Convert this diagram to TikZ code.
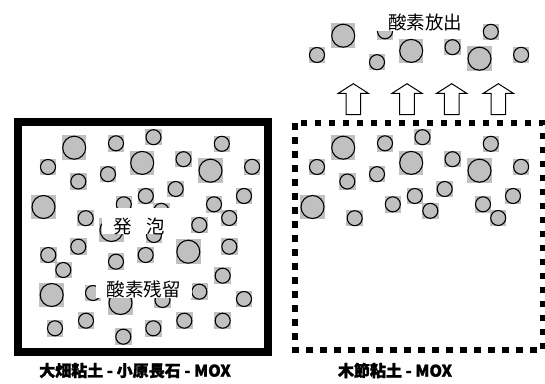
\documentclass[tikz,border=0pt]{standalone}
\usepackage{fontspec}
\newfontfamily\jp{Noto Sans CJK JP}
\newfontfamily\jpheavy{Noto Sans CJK JP}[BoldFeatures={FakeBold=1.5}]
\definecolor{poregray}{HTML}{C0C0C0}
\tikzset{
  poreline/.style={draw=black, line width=1.1pt},
  lbl/.style={font=\jp\fontsize{18.5}{20}\selectfont, fill=white, inner xsep=11pt, inner ysep=0pt, text height=25pt, text depth=1pt, anchor=base},
  captionlbl/.style={font=\jpheavy\bfseries\fontsize{16}{18}\selectfont, inner sep=0pt},
  solidframe/.style={draw=black, line width=8pt},
  dashframe/.style={draw=black, line width=6.5pt, dash pattern=on 6.5pt off 7.5pt},
  blockarrow/.style={draw=black, fill=white, line width=1pt, line join=miter}
}
\newcommand\porecirc[3]{%
  \fill[poregray] ({#1-#3-0.75},{#2-#3-0.75}) rectangle ({#1+#3+0.75},{#2+#3+0.75});
  \draw[poreline] (#1,#2) circle[radius=#3pt];}
\newcommand\smallpore[2]{\porecirc{#1}{#2}{7.5}}
\newcommand\bigpore[2]{\porecirc{#1}{#2}{11.5}}
\newcommand\blockup[1]{%
  \draw[blockarrow] (#1,83.7) -- ({#1+15},93.3) -- ({#1+7.3},93.3) -- ({#1+7.3},114.7)
    -- ({#1-7.3},114.7) -- ({#1-7.3},93.3) -- ({#1-15},93.3) -- cycle;}
% circles 1-20 (upper part of a body)
\newcommand\upperpores{%
  \bigpore{74.2}{147.7}
  \smallpore{116}{143.3}
  \smallpore{153.5}{137.2}
  \smallpore{221.8}{143.8}
  \smallpore{48}{167}
  \bigpore{142.2}{162.9}
  \smallpore{183.5}{159.2}
  \bigpore{210.5}{170.7}
  \smallpore{252.1}{166.8}
  \smallpore{78.3}{181.5}
  \smallpore{108}{174.2}
  \smallpore{175.7}{189}
  \smallpore{145.8}{196}
  \smallpore{244}{196}
  \bigpore{43.5}{207}
  \smallpore{123.8}{204.3}
  \smallpore{161.3}{210.8}
  \smallpore{214}{204.3}
  \smallpore{85.7}{218.2}
  \smallpore{229.2}{218}}
\begin{document}
\begin{tikzpicture}[x=1pt,y=-1pt]
\useasboundingbox (0,0) rectangle (545,383);
\fill[white] (0,0) rectangle (545,383);
% left body
\upperpores
\bigpore{111.5}{230}
\smallpore{154}{235}
\smallpore{199.3}{225}
\smallpore{78.3}{246.7}
\smallpore{48.3}{255}
\smallpore{145.7}{255}
\bigpore{188.3}{251.7}
\smallpore{229.3}{246.7}
\smallpore{116}{261.7}
\smallpore{63.3}{270}
\smallpore{222.7}{275.7}
\bigpore{51.7}{295}
\smallpore{93}{293}
\bigpore{120.5}{303}
\smallpore{162.5}{300}
\smallpore{199.3}{291.7}
\smallpore{244}{299}
\smallpore{86}{320.7}
\smallpore{55}{328.3}
\smallpore{123.3}{336.7}
\smallpore{153.3}{328.3}
\smallpore{184.3}{320.7}
\smallpore{222.7}{320.7}
\node[lbl] (foam) at (139.2,233.2) {発\hspace{0.8em}泡};
\node[lbl] (resid) at (143.8,296.5) {酸素残留};
\draw[solidframe] (17.5,121.5) rectangle (268.3,352);
% right body
\begin{scope}[shift={(269,0)}]
\upperpores
\end{scope}
% released bubbles
\begin{scope}[shift={(269,-112)}]
\bigpore{74.2}{147.7}
\smallpore{116}{143.3}
\smallpore{221.8}{143.8}
\smallpore{48}{167}
\bigpore{142.2}{162.9}
\smallpore{183.5}{159.2}
\bigpore{210.5}{170.7}
\smallpore{252.1}{166.8}
\smallpore{108}{174.2}
\end{scope}
\node[lbl] (release) at (425,29.8) {酸素放出};
\blockup{353.3}
\blockup{407}
\blockup{451.7}
\blockup{498.3}
\draw[dashframe] (295,123) rectangle (543,350);
\node[captionlbl] (capA) at (135,370.5) {大畑粘土 - 小原長石 - MOX};
\node[captionlbl] (capB) at (395,370.5) {木節粘土 - MOX};
\end{tikzpicture}
\end{document}
